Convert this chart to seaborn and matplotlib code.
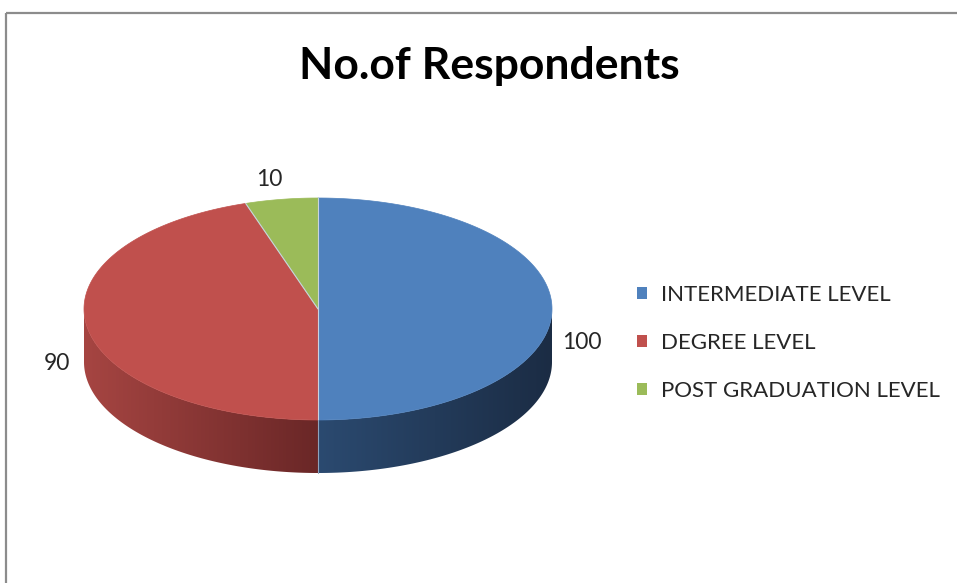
import numpy as np
import matplotlib
matplotlib.use("Agg")
import matplotlib.pyplot as plt
from matplotlib.patches import Polygon, Patch
from matplotlib.colors import to_rgb
import seaborn as sns

# Survey data
categories = ["INTERMEDIATE LEVEL", "DEGREE LEVEL", "POST GRADUATION LEVEL"]
respondents = [100, 90, 10]
chart_title = "No.of Respondents"

sns.set_theme(style="white")
plt.rcParams["font.family"] = ["Lato", "DejaVu Sans"]

top_colors = sns.color_palette(["#4F81BD", "#C0504D", "#9BBB59"])
side_light = ["#2B4A70", "#A64542", "#7A9A40"]
side_dark = ["#1B2C44", "#6A2727", "#5C7A2C"]
text_color = "#262626"

W, H = 957, 583
fig = plt.figure(figsize=(W / 100, H / 100), dpi=100)
ax = fig.add_axes([0, 0, 1, 1])
ax.axis("off")

# Ellipse geometry of the tilted pie (pixel units)
cx, cy, rx, ry, depth = 318, 309, 234, 111, 53


def arc(t0, t1, n=200, dy=0.0):
    t = np.radians(np.linspace(t0, t1, n))
    return np.column_stack([cx + rx * np.cos(t), cy - ry * np.sin(t) + dy])


vals = np.asarray(respondents, dtype=float)
bounds = 90 - 360 * np.concatenate([[0], np.cumsum(vals / vals.sum())])

# Side walls (front half only), shaded with a horizontal gradient
for i in range(len(vals)):
    start, end = bounds[i], bounds[i + 1]
    for lo, hi in [(-180, 0), (-540, -360)]:
        a, b = max(end, lo), min(start, hi)
        if b <= a:
            continue
        upper = arc(b, a)
        lower = arc(a, b, dy=depth)
        pts = np.vstack([upper, lower])
        poly = Polygon(pts, closed=True, facecolor="none", edgecolor="none")
        ax.add_patch(poly)
        x0, x1 = pts[:, 0].min(), pts[:, 0].max()
        y0, y1 = pts[:, 1].min(), pts[:, 1].max()
        c_l, c_d = np.array(to_rgb(side_light[i])), np.array(to_rgb(side_dark[i]))
        s = np.linspace(0, 1, 256)[:, None]
        grad = c_l * (1 - s) + c_d * s
        im = ax.imshow(grad[None, :, :], extent=(x0, x1, y1, y0), aspect="auto",
                       interpolation="bilinear", zorder=1)
        im.set_clip_path(poly)

# Top faces
for i in range(len(vals)):
    pts = np.vstack([[cx, cy], arc(bounds[i], bounds[i + 1])])
    ax.add_patch(Polygon(pts, closed=True, facecolor=top_colors[i],
                         edgecolor=top_colors[i], lw=0.5, zorder=2))

# Light separators between slices
for t in bounds[:-1]:
    tr = np.radians(t)
    ex, ey = cx + rx * np.cos(tr), cy - ry * np.sin(tr)
    ax.plot([cx, ex], [cy, ey], color="#C8D3E0", lw=0.8, zorder=3)
    if np.sin(tr) < 0:
        ax.plot([ex, ex], [ey, ey + depth], color="#8FA3BC", lw=0.8, zorder=3)

# Value labels outside each slice
mids = (bounds[:-1] + bounds[1:]) / 2
for v, t in zip(respondents, mids):
    tr = np.radians(t)
    reach = rx + 30 if np.sin(tr) < 0.5 else rx + 75
    lx = cx + reach * np.cos(tr)
    ly = cy - (ry + 22) * np.sin(tr) + depth * 0.6 * (1 - max(np.sin(tr), 0))
    ax.text(lx, ly + 8, f"{v}", ha="center", va="baseline", fontsize=16.5,
            color=text_color, zorder=4)

ax.text(489, 79, chart_title, ha="center", va="baseline", fontsize=32,
        fontweight="bold", color="black")

handles = [Patch(facecolor=c, edgecolor="none", label=l) for c, l in zip(top_colors, categories)]
ax.legend(handles=handles, loc="center left", bbox_to_anchor=(637, 343),
          bbox_transform=ax.transData, frameon=False, fontsize=16,
          handlelength=0.47, handleheight=0.47, handletextpad=0.6,
          labelspacing=1.25, borderpad=0, borderaxespad=0, labelcolor=text_color)

# Chart frame (only the top and left edges fall inside the image)
ax.plot([5.5, W], [12.5, 12.5], color="#8C8C8C", lw=1.6, solid_capstyle="butt", zorder=5)
ax.plot([5.5, 5.5], [12.5, H], color="#8C8C8C", lw=1.6, solid_capstyle="butt", zorder=5)

ax.set_xlim(0, W)
ax.set_ylim(H, 0)
fig.savefig("out.png", dpi=100)
